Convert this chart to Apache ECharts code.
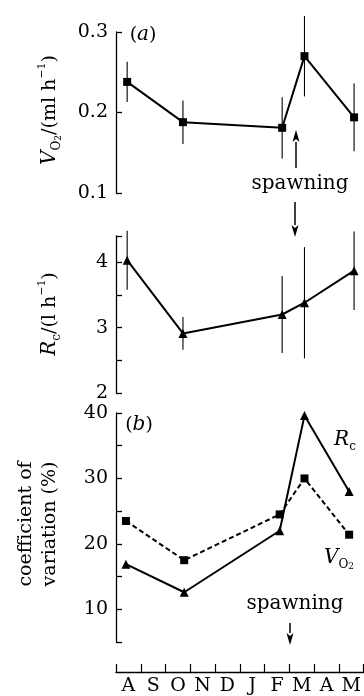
<!DOCTYPE html>
<html><head><meta charset="utf-8">
<script src="https://cdn.jsdelivr.net/npm/echarts@6/dist/echarts.min.js"></script>
<style>html,body{margin:0;padding:0;background:#fff}#c{width:364px;height:696px}</style>
</head><body><div id="c"></div>
<script>
// ---- data ----
const months = ['A','S','O','N','D','J','F','M','A','M'];
// sampling times in months from the start of August
const sampleA = [0.45, 2.7, 6.7, 7.6, 9.6];
const sampleB = [0.4, 2.75, 6.6, 7.6, 9.4];
const vo2Mean = [0.238, 0.188, 0.181, 0.270, 0.194];
const vo2Err  = [0.025, 0.027, 0.038, 0.050, 0.042];
const rcMean  = [4.03, 2.91, 3.20, 3.38, 3.87];
const rcErr   = [0.45, 0.25, 0.59, 0.85, 0.60];
const cvRc    = [16.9, 12.6, 22.0, 39.6, 28.0];
const cvVo2   = [23.5, 17.5, 24.5, 30.0, 21.4];

const FONT = 'DejaVu Serif';
const pts = (xs, ys) => xs.map((x, i) => [x, ys[i]]);
const errs = (xs, m, e) => xs.map((x, i) => [x, m[i] - e[i], m[i] + e[i]]);

function errRender(params, api) {
  const x = api.value(0);
  const p1 = api.coord([x, api.value(1)]);
  const p2 = api.coord([x, api.value(2)]);
  return {type: 'line', shape: {x1: p1[0], y1: p1[1], x2: p2[0], y2: p2[1]},
          style: {stroke: '#000', lineWidth: 1.1}};
}

const axisLineStyle = {show: true, lineStyle: {color: '#000', width: 1.3}};
const tickStyle = {show: true, inside: true, length: 6, lineStyle: {color: '#000', width: 1.3}};
const labelBase = {color: '#000', fontFamily: FONT, fontSize: 19, margin: 8};

function hiddenX(grid) {
  return {type: 'value', gridIndex: grid, min: 0, max: 10, show: false};
}

const richBase = {
  n:   {fontFamily: FONT, fontSize: 19, lineHeight: 26, color: '#000'},
  iv:  {fontFamily: FONT, fontSize: 20, fontStyle: 'italic', lineHeight: 26, color: '#000'},
  sub: {fontFamily: FONT, fontSize: 12, lineHeight: 16, verticalAlign: 'bottom', color: '#000'},
  sub2:{fontFamily: FONT, fontSize: 9, lineHeight: 10, verticalAlign: 'bottom', color: '#000'},
  sup: {fontFamily: FONT, fontSize: 11, lineHeight: 20, verticalAlign: 'top', color: '#000'}
};

function arrow(x, yTail, yTip) {
  const dir = yTip < yTail ? -1 : 1;
  const hl = 12, hw = 3.5;
  return [
    {type: 'line', shape: {x1: x, y1: yTail, x2: x, y2: yTip - dir * hl}, style: {stroke: '#000', lineWidth: 1.5}},
    {type: 'polygon', shape: {points: [[x, yTip], [x - hw, yTip - dir * hl], [x, yTip - dir * (hl - 3)], [x + hw, yTip - dir * hl]]}, style: {fill: '#000'}}
  ];
}

const chart = echarts.init(document.getElementById('c'));
chart.setOption({
  backgroundColor: '#fff',
  animation: false,
  grid: [
    {left: 116, right: 0, top: 32, height: 161},
    {left: 116, right: 0, top: 236, height: 157},
    {left: 116, right: 0, top: 413, height: 229},
    {left: 116, right: 0, top: 600, height: 74}
  ],
  xAxis: [
    hiddenX(0), hiddenX(1), hiddenX(2),
    {type: 'category', gridIndex: 3, data: months, boundaryGap: true,
     axisLine: axisLineStyle,
     axisTick: {show: true, inside: true, length: 8, interval: 0, lineStyle: {color: '#000', width: 1.2}},
     axisLabel: Object.assign({}, labelBase, {margin: 5, interval: 0}),
     splitLine: {show: false}}
  ],
  yAxis: [
    {type: 'value', gridIndex: 0, min: 0.1, max: 0.3, interval: 0.1,
     axisLine: axisLineStyle, axisTick: tickStyle, splitLine: {show: false},
     axisLabel: Object.assign({}, labelBase, {formatter: v => v.toFixed(1)})},
    {type: 'value', gridIndex: 1, min: 2, max: 4.4, interval: 0.5,
     axisLine: axisLineStyle, axisTick: tickStyle, splitLine: {show: false},
     axisLabel: Object.assign({}, labelBase, {formatter: v => (Math.abs(v - Math.round(v)) < 1e-6 ? String(Math.round(v)) : '')})},
    {type: 'value', gridIndex: 2, min: 5, max: 40, interval: 5,
     axisLine: axisLineStyle, axisTick: tickStyle, splitLine: {show: false},
     axisLabel: Object.assign({}, labelBase, {formatter: v => (v % 10 === 0 ? String(v) : '')})},
    {type: 'value', gridIndex: 3, show: false, min: 0, max: 1}
  ],
  series: [
    {type: 'custom', xAxisIndex: 0, yAxisIndex: 0, renderItem: errRender, data: errs(sampleA, vo2Mean, vo2Err), z: 2},
    {type: 'line', xAxisIndex: 0, yAxisIndex: 0, data: pts(sampleA, vo2Mean), symbol: 'rect', symbolSize: 8,
     lineStyle: {color: '#000', width: 2}, itemStyle: {color: '#000'}, z: 3},
    {type: 'custom', xAxisIndex: 1, yAxisIndex: 1, renderItem: errRender, data: errs(sampleA, rcMean, rcErr), z: 2},
    {type: 'line', xAxisIndex: 1, yAxisIndex: 1, data: pts(sampleA, rcMean), symbol: 'triangle', symbolSize: 9,
     lineStyle: {color: '#000', width: 2}, itemStyle: {color: '#000'}, z: 3},
    {type: 'line', xAxisIndex: 2, yAxisIndex: 2, data: pts(sampleB, cvRc), symbol: 'triangle', symbolSize: 9,
     lineStyle: {color: '#000', width: 2}, itemStyle: {color: '#000'}, z: 3},
    {type: 'line', xAxisIndex: 2, yAxisIndex: 2, data: pts(sampleB, cvVo2), symbol: 'rect', symbolSize: 8,
     lineStyle: {color: '#000', width: 2, type: [5, 3]}, itemStyle: {color: '#000'}, z: 3}
  ],
  graphic: [
    {type: 'text', x: 50, y: 110, rotation: Math.PI / 2,
     style: {text: '{iv|V}{sub|O}{sub2|2}{n|/(ml h}{sup|−1}{n|)}', rich: richBase, align: 'center', verticalAlign: 'middle'}},
    {type: 'text', x: 50, y: 314, rotation: Math.PI / 2,
     style: {text: '{iv|R}{sub|c}{n|/(l h}{sup|−1}{n|)}', rich: richBase, align: 'center', verticalAlign: 'middle'}},
    {type: 'text', x: 38, y: 524, rotation: Math.PI / 2,
     style: {text: 'coefficient of\nvariation (%)', font: '19px "DejaVu Serif"', fill: '#000', lineHeight: 24, align: 'center', verticalAlign: 'middle'}},
    {type: 'text', x: 143, y: 35,
     style: {text: '{n|(}{iv|a}{n|)}', rich: richBase, align: 'center', verticalAlign: 'middle'}},
    {type: 'text', x: 139, y: 425,
     style: {text: '{n|(}{iv|b}{n|)}', rich: richBase, align: 'center', verticalAlign: 'middle'}},
    {type: 'text', x: 300, y: 184,
     style: {text: 'spawning', font: '20px "DejaVu Serif"', fill: '#000', align: 'center', verticalAlign: 'middle'}},
    {type: 'text', x: 295, y: 604,
     style: {text: 'spawning', font: '20px "DejaVu Serif"', fill: '#000', align: 'center', verticalAlign: 'middle'}},
    {type: 'text', x: 345, y: 440,
     style: {text: '{iv|R}{sub|c}', rich: richBase, align: 'center', verticalAlign: 'middle'}},
    {type: 'text', x: 339, y: 558,
     style: {text: '{iv|V}{sub|O}{sub2|2}', rich: richBase, align: 'center', verticalAlign: 'middle'}}
  ].concat(arrow(296, 168, 130), arrow(295, 202, 237), arrow(290, 623, 645))
});
</script></body></html>
